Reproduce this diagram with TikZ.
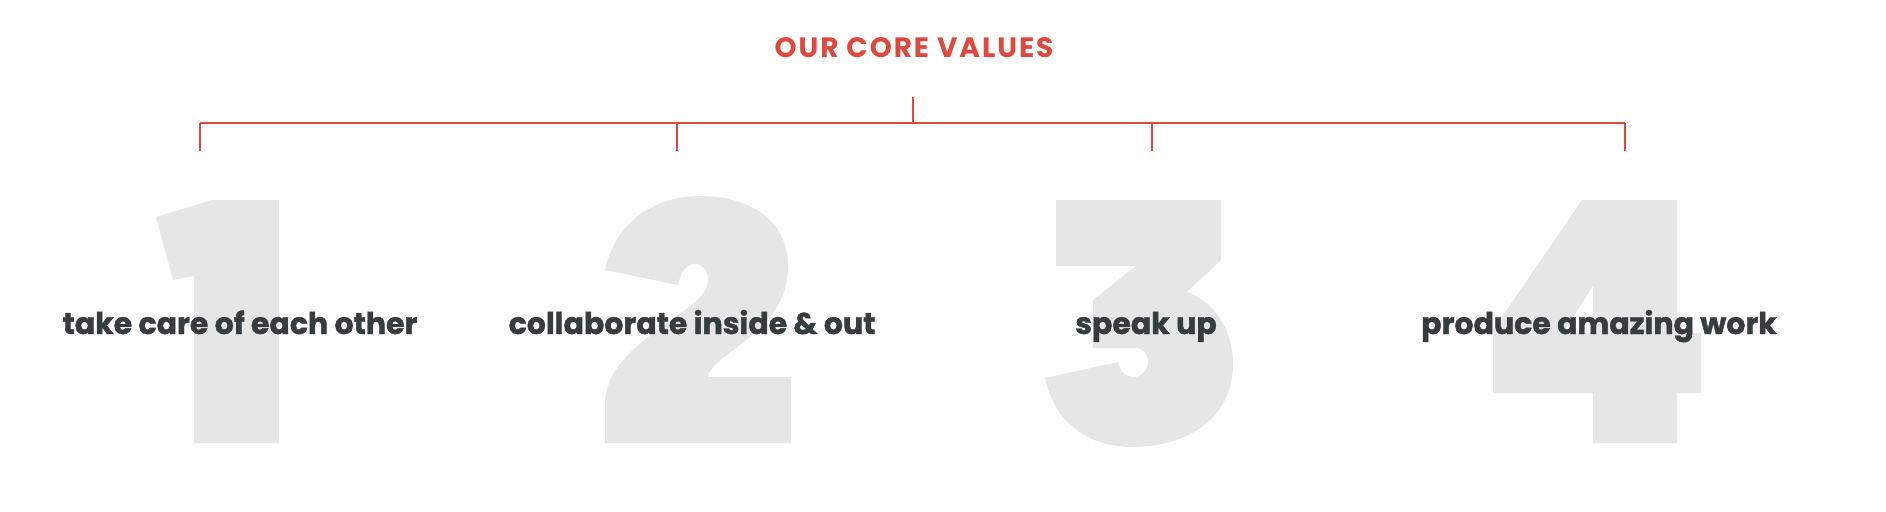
\documentclass[tikz,border=0pt]{standalone}
\usepackage{xcolor}
\usepackage{fontspec}
\usepackage{tikz}

\newfontfamily\valuefont{Poppins}[BoldFeatures={FakeBold=1.4}]
\newfontfamily\headingfont{Poppins}[LetterSpace=7]
\definecolor{corered}{HTML}{E0483E}
\definecolor{coretext}{HTML}{363D3F}
\definecolor{coregray}{HTML}{E5E7E6}

\tikzset{
    heading/.style={text=corered, font=\headingfont\bfseries\fontsize{28}{32}\selectfont, inner sep=0pt},
    value/.style={text=coretext, font=\valuefont\bfseries\fontsize{30}{34}\selectfont, inner sep=0pt, anchor=base},
    digitshape/.style={fill=coregray},
    bracket/.style={draw=corered, line width=1.6pt}
}

\begin{document}
\begin{tikzpicture}[x=1pt, y=-1pt]
    \useasboundingbox (0, 0) rectangle (1886, 511);

    \node[heading] at (914, 48) (title) {OUR CORE VALUES};

    \coordinate (hub) at (913, 97);
    \coordinate (mid) at (913, 123);
    \coordinate (top1) at (200, 123);
    \coordinate (top2) at (677, 123);
    \coordinate (top3) at (1152, 123);
    \coordinate (top4) at (1625, 123);
    \coordinate (end1) at (200, 151);
    \coordinate (end2) at (677, 151);
    \coordinate (end3) at (1152, 151);
    \coordinate (end4) at (1625, 151);

    \draw[bracket] (hub) -- (mid);
    \draw[bracket] (top1) -- (top4);
    \draw[bracket] (top1) -- (end1);
    \draw[bracket] (top2) -- (end2);
    \draw[bracket] (top3) -- (end3);
    \draw[bracket] (top4) -- (end4);

    \fill[digitshape] (156, 217) -- (212, 200) -- (279, 200) -- (279, 443) -- (194, 443) -- (194, 276) -- (173, 280) -- cycle;
    \fill[digitshape] (605, 270) .. controls (615, 222) and (655, 196) .. (700, 196)
        .. controls (755, 196) and (788, 225) .. (788, 265)
        .. controls (788, 305) and (765, 325) .. (740, 345)
        .. controls (722, 359) and (708, 368) .. (708, 377)
        -- (791, 377) -- (791, 443) -- (605, 443) -- (605, 405)
        .. controls (605, 372) and (630, 350) .. (660, 328)
        .. controls (690, 306) and (708, 296) .. (708, 280)
        .. controls (708, 270) and (703, 264) .. (695, 264)
        .. controls (686, 264) and (681, 272) .. (678, 285) -- cycle;
    \fill[digitshape] (1056, 200) -- (1221, 200) -- (1221, 260) -- (1187, 292)
        .. controls (1215, 302) and (1233, 330) .. (1233, 365)
        .. controls (1233, 415) and (1190, 447) .. (1133, 447)
        .. controls (1085, 447) and (1054, 420) .. (1045, 378)
        -- (1118, 362)
        .. controls (1120, 372) and (1126, 377) .. (1133, 377)
        .. controls (1142, 377) and (1148, 370) .. (1148, 362)
        .. controls (1148, 354) and (1143, 348) .. (1135, 348)
        -- (1093, 348) -- (1093, 300) -- (1136, 266) -- (1056, 266) -- cycle;
    \fill[digitshape] (1582, 200) -- (1677, 200) -- (1677, 333) -- (1701, 333) -- (1701, 393) -- (1677, 393) -- (1677, 443) -- (1593, 443) -- (1593, 393) -- (1493, 393) -- (1493, 330) -- cycle
        (1593, 286) -- (1563, 333) -- (1593, 333) -- cycle;

    \node[value] at (240, 334) (care) {take care of each other};
    \node[value] at (692, 334) (collab) {collaborate inside \& out};
    \node[value] at (1146, 334) (speak) {speak up};
    \node[value] at (1599, 334) (work) {produce amazing work};
\end{tikzpicture}
\end{document}
